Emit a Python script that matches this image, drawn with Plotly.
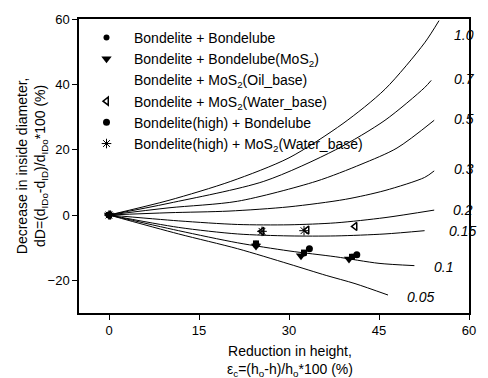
import plotly.graph_objects as go

# ---- measured data series ----
series_names = [
    "Bondelite + Bondelube",
    "Bondelite + Bondelube(MoS<sub>2</sub>)",
    "Bondelite + MoS<sub>2</sub>(Oil_base)",
    "Bondelite + MoS<sub>2</sub>(Water_base)",
    "Bondelite(high) + Bondelube",
    "Bondelite(high) + MoS<sub>2</sub>(Water_base)",
]
a_x = [0, 24.5, 32.5, 40.5]
a_y = [0, -8.8, -11.8, -12.8]
b_x = [0, 24.5, 32.0, 40.0]
b_y = [0, -9.5, -12.5, -13.5]
c_x = [0, 24.5, 32.5, 40.5]
c_y = [0, -8.7, -11.5, -12.8]
d_x = [0, 25.5, 33.0, 41.0]
d_y = [0, -5.0, -4.6, -3.5]
e_x = [0, 24.5, 33.4, 41.3]
e_y = [0, -9.0, -10.3, -12.2]
f_x = [0, 25.5, 32.5]
f_y = [0, -5.0, -4.8]

# ---- calibration curves (friction factor) ----
curve_labels = ["1.0", "0.7", "0.5", "0.3", "0.2", "0.15", "0.1", "0.05"]
curve_x = [
    [0, 10, 20.3, 30, 39, 46, 52.6, 55],
    [0, 10, 25.8, 37.8, 46, 52.6, 53.7],
    [0, 10, 21.4, 34.5, 42, 48, 54.2],
    [0, 10, 20, 30, 39.4, 46, 52.6, 54.2],
    [0, 11.6, 21.4, 30, 37.8, 46, 54.2],
    [0, 11.6, 21.4, 30, 37.8, 46, 52.6],
    [0, 11.6, 21.4, 30, 37.8, 45, 50.9],
    [0, 11.6, 21.4, 30, 36.2, 41, 46.5],
]
curve_y = [
    [0, 4.5, 10.3, 17.5, 28, 38.5, 52.7, 59.5],
    [0, 3.6, 10.3, 20, 29, 39, 41.2],
    [0, 2.2, 4.2, 10.3, 15.5, 20.5, 29],
    [0, 0.7, 1.2, 2.5, 4.8, 7.5, 11.5, 13.5],
    [0, -1.8, -2.9, -3.0, -2.4, -0.8, 1.5],
    [0, -3.8, -5.8, -6.4, -6.4, -5.8, -4.8],
    [0, -4.8, -8.5, -11.0, -12.8, -14.8, -15.5],
    [0, -5.8, -10.3, -15.0, -18.5, -21.0, -24.5],
]
label_x = [57.2, 57.2, 57.2, 57.2, 57.0, 56.3, 53.8, 49.3]
label_y = [55, 41.5, 29.4, 14.2, 1.5, -5, -16, -25]

x_ticks = [0, 15, 30, 45, 60]
y_ticks = [-20, 0, 20, 40, 60]

FONT = "Arial, Liberation Sans, sans-serif"

fig = go.Figure()

fig.add_trace(go.Scatter(x=a_x, y=a_y, mode="markers", name=series_names[0],
                         marker=dict(symbol="circle", size=6, color="black")))
fig.add_trace(go.Scatter(x=b_x, y=b_y, mode="markers", name=series_names[1],
                         marker=dict(symbol="triangle-down", size=9, color="black")))
# oil base: points drawn, legend symbol blank
fig.add_trace(go.Scatter(x=c_x, y=c_y, mode="markers", name=series_names[2],
                         showlegend=False, legendgroup="oil",
                         marker=dict(symbol="square", size=6, color="black")))
fig.add_trace(go.Scatter(x=[None], y=[None], mode="markers", name=series_names[2],
                         legendgroup="oil",
                         marker=dict(symbol="square", size=6, color="rgba(0,0,0,0)")))
fig.add_trace(go.Scatter(x=d_x, y=d_y, mode="markers", name=series_names[3],
                         marker=dict(symbol="triangle-left-open", size=7, color="black",
                                     line=dict(width=1.5))))
fig.add_trace(go.Scatter(x=e_x, y=e_y, mode="markers", name=series_names[4],
                         marker=dict(symbol="circle", size=7, color="black")))
fig.add_trace(go.Scatter(x=f_x, y=f_y, mode="markers", name=series_names[5],
                         marker=dict(symbol="asterisk-open", size=8, color="black",
                                     line=dict(width=1, color="black"))))

for cx, cy in zip(curve_x, curve_y):
    fig.add_trace(go.Scatter(x=cx, y=cy, mode="lines", showlegend=False,
                             line=dict(color="black", width=1, shape="spline", smoothing=0.8),
                             hoverinfo="skip"))

for lx, ly, lt in zip(label_x, label_y, curve_labels):
    fig.add_annotation(x=lx, y=ly, text="<i>%s</i>" % lt, showarrow=False,
                       xanchor="left", yanchor="middle",
                       font=dict(size=14, color="black", family=FONT))

fig.add_annotation(xref="paper", yref="paper", x=0.54, y=-0.095, yanchor="top",
                   xanchor="center", showarrow=False,
                   text="Reduction in height,<br>ε<sub>c</sub>=(h<sub>o</sub>-h)/h<sub>o</sub>*100 (%)",
                   font=dict(size=14, color="black", family=FONT))
fig.add_annotation(xref="paper", yref="paper", x=-0.12, y=0.5, textangle=-90,
                   xanchor="center", yanchor="middle", showarrow=False,
                   text="Decrease in inside diameter,<br>dD=(d<sub>IDo</sub>-d<sub>ID</sub>)/d<sub>IDo</sub>*100 (%)",
                   font=dict(size=14, color="black", family=FONT))

axis_common = dict(showgrid=False, zeroline=False, showline=True, linecolor="black",
                   linewidth=1.5, mirror=True, ticks="outside", ticklen=5,
                   tickcolor="black", tickwidth=1.2,
                   tickfont=dict(size=13, color="black", family=FONT))

fig.update_xaxes(range=[-5, 60], tickvals=x_ticks, **axis_common)
fig.update_yaxes(range=[-30, 60], tickvals=y_ticks, **axis_common)

fig.update_layout(
    width=488, height=378,
    margin=dict(l=79, r=13, t=15, b=65),
    paper_bgcolor="white", plot_bgcolor="white",
    font=dict(family=FONT, color="black"),
    showlegend=True,
    legend=dict(x=0.0, y=0.99, xanchor="left", yanchor="top",
                bgcolor="rgba(0,0,0,0)", tracegroupgap=0, itemwidth=45,
                font=dict(size=14, color="black", family=FONT)),
)

fig.write_html("out.html", config={"displayModeBar": False},
               post_script="document.body.style.margin='0';document.body.style.overflow='hidden';")
